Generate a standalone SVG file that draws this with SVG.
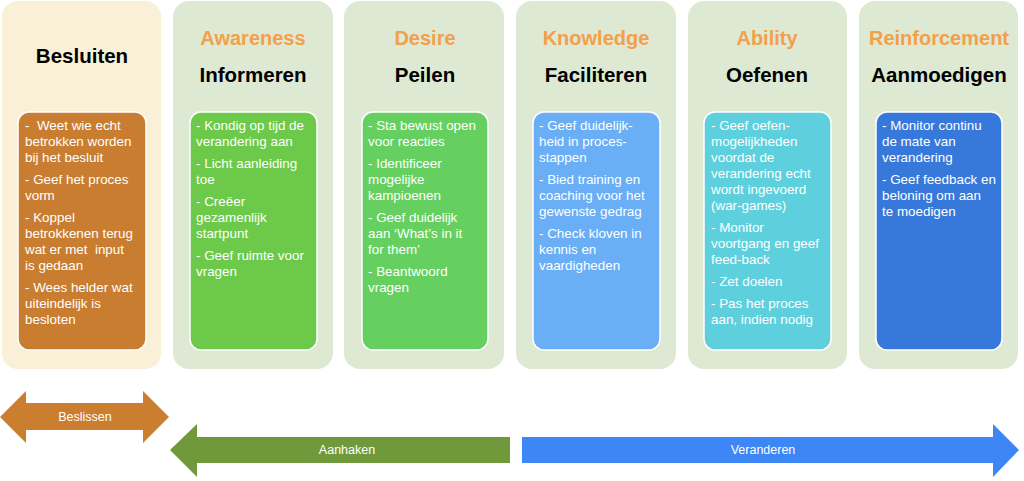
<svg xmlns="http://www.w3.org/2000/svg" width="1024" height="481" viewBox="0 0 1024 481">
<style>
.outer{fill:#DEE9D3}
.outer1{fill:#FAF0D7}
.inner{stroke:#FFFFFF;stroke-width:1.5}
.t1{font-family:"Liberation Sans",Arial,sans-serif;font-weight:bold;font-size:20px;fill:#F2A04A;text-anchor:middle}
.t2{font-family:"Liberation Sans",Arial,sans-serif;font-weight:bold;font-size:20.5px;fill:#000000;text-anchor:middle}
.b{font-family:"Liberation Sans",Arial,sans-serif;font-size:13.4px;fill:#FFFFFF}
.al{font-family:"Liberation Sans",Arial,sans-serif;font-size:12.5px;fill:#FFFFFF;text-anchor:middle}
</style>
<rect width="1024" height="481" fill="#FFFFFF"/>

<g id="besluiten">
<rect class="outer1" x="2" y="1" width="159" height="368" rx="16"/>
<text class="t2" x="82" y="63">Besluiten</text>
<rect class="inner" x="18" y="112" width="128" height="238" rx="11" fill="#C97D30"/>
<text class="b" xml:space="preserve"><tspan x="25" y="130">-  Weet wie echt</tspan><tspan x="25" y="146">betrokken worden</tspan><tspan x="25" y="162">bij het besluit</tspan><tspan x="25" y="184">- Geef het proces</tspan><tspan x="25" y="200">vorm</tspan><tspan x="25" y="222">- Koppel</tspan><tspan x="25" y="238">betrokkenen terug</tspan><tspan x="25" y="254">wat er met  input</tspan><tspan x="25" y="270">is gedaan</tspan><tspan x="25" y="292">- Wees helder wat</tspan><tspan x="25" y="308">uiteindelijk is</tspan><tspan x="25" y="324">besloten</tspan></text>
</g>

<g id="informeren">
<rect class="outer" x="173" y="1" width="160" height="368" rx="16"/>
<text class="t1" x="253" y="45">Awareness</text>
<text class="t2" x="253" y="82">Informeren</text>
<rect class="inner" x="190" y="112" width="127" height="238" rx="11" fill="#6CC94A"/>
<text class="b"><tspan x="196" y="130">- Kondig op tijd de</tspan><tspan x="196" y="146">verandering aan</tspan><tspan x="196" y="168">- Licht aanleiding</tspan><tspan x="196" y="184">toe</tspan><tspan x="196" y="206">- Creëer</tspan><tspan x="196" y="222">gezamenlijk</tspan><tspan x="196" y="238">startpunt</tspan><tspan x="196" y="260">- Geef ruimte voor</tspan><tspan x="196" y="276">vragen</tspan></text>
</g>

<g id="peilen">
<rect class="outer" x="344" y="1" width="160" height="368" rx="16"/>
<text class="t1" x="425" y="45">Desire</text>
<text class="t2" x="425" y="82">Peilen</text>
<rect class="inner" x="362" y="112" width="126" height="238" rx="11" fill="#65CF5F"/>
<text class="b"><tspan x="368" y="130">- Sta bewust open</tspan><tspan x="368" y="146">voor reacties</tspan><tspan x="368" y="168">- Identificeer</tspan><tspan x="368" y="184">mogelijke</tspan><tspan x="368" y="200">kampioenen</tspan><tspan x="368" y="222">- Geef duidelijk</tspan><tspan x="368" y="238">aan ‘What’s in it</tspan><tspan x="368" y="254">for them’</tspan><tspan x="368" y="276">- Beantwoord</tspan><tspan x="368" y="292">vragen</tspan></text>
</g>

<g id="faciliteren">
<rect class="outer" x="516" y="1" width="160" height="368" rx="16"/>
<text class="t1" x="596" y="45">Knowledge</text>
<text class="t2" x="596" y="82">Faciliteren</text>
<rect class="inner" x="533" y="112" width="127" height="238" rx="11" fill="#6AAEF5"/>
<text class="b"><tspan x="539" y="130">- Geef duidelijk-</tspan><tspan x="539" y="146">heid in proces-</tspan><tspan x="539" y="162">stappen</tspan><tspan x="539" y="184">- Bied training en</tspan><tspan x="539" y="200">coaching voor het</tspan><tspan x="539" y="216">gewenste gedrag</tspan><tspan x="539" y="238">- Check kloven in</tspan><tspan x="539" y="254">kennis en</tspan><tspan x="539" y="270">vaardigheden</tspan></text>
</g>

<g id="oefenen">
<rect class="outer" x="688" y="1" width="159" height="368" rx="16"/>
<text class="t1" x="767" y="45">Ability</text>
<text class="t2" x="767" y="82">Oefenen</text>
<rect class="inner" x="704" y="112" width="127" height="238" rx="11" fill="#5ECFDC"/>
<text class="b"><tspan x="711" y="130">- Geef oefen-</tspan><tspan x="711" y="146">mogelijkheden</tspan><tspan x="711" y="162">voordat de</tspan><tspan x="711" y="178">verandering echt</tspan><tspan x="711" y="194">wordt ingevoerd</tspan><tspan x="711" y="210">(war-games)</tspan><tspan x="711" y="232">- Monitor</tspan><tspan x="711" y="248">voortgang en geef</tspan><tspan x="711" y="264">feed-back</tspan><tspan x="711" y="286">- Zet doelen</tspan><tspan x="711" y="308">- Pas het proces</tspan><tspan x="711" y="324">aan, indien nodig</tspan></text>
</g>

<g id="aanmoedigen">
<rect class="outer" x="859" y="1" width="159" height="368" rx="16"/>
<text class="t1" x="939" y="45">Reinforcement</text>
<text class="t2" x="939" y="82">Aanmoedigen</text>
<rect class="inner" x="876" y="112" width="126" height="238" rx="11" fill="#3779DA"/>
<text class="b"><tspan x="882" y="130">- Monitor continu</tspan><tspan x="882" y="146">de mate van</tspan><tspan x="882" y="162">verandering</tspan><tspan x="882" y="184">- Geef feedback en</tspan><tspan x="882" y="200">beloning om aan</tspan><tspan x="882" y="216">te moedigen</tspan></text>
</g>

<g id="connectors">
<g id="beslissen">
<polygon points="0,417 26,391 26,403 143,403 143,391 169,417 143,443 143,430 26,430 26,443" fill="#CB7E30"/>
<text class="al" x="85" y="421">Beslissen</text>
</g>
<g id="aanhaken">
<polygon points="170,450 197,424 197,437 510,437 510,463 197,463 197,477" fill="#6F993A"/>
<text class="al" x="347" y="454">Aanhaken</text>
</g>
<g id="veranderen">
<polygon points="522,437 993,437 993,424 1019,450 993,477 993,463 522,463" fill="#3D86F5"/>
<text class="al" x="763" y="454">Veranderen</text>
</g>
</g>
</svg>
